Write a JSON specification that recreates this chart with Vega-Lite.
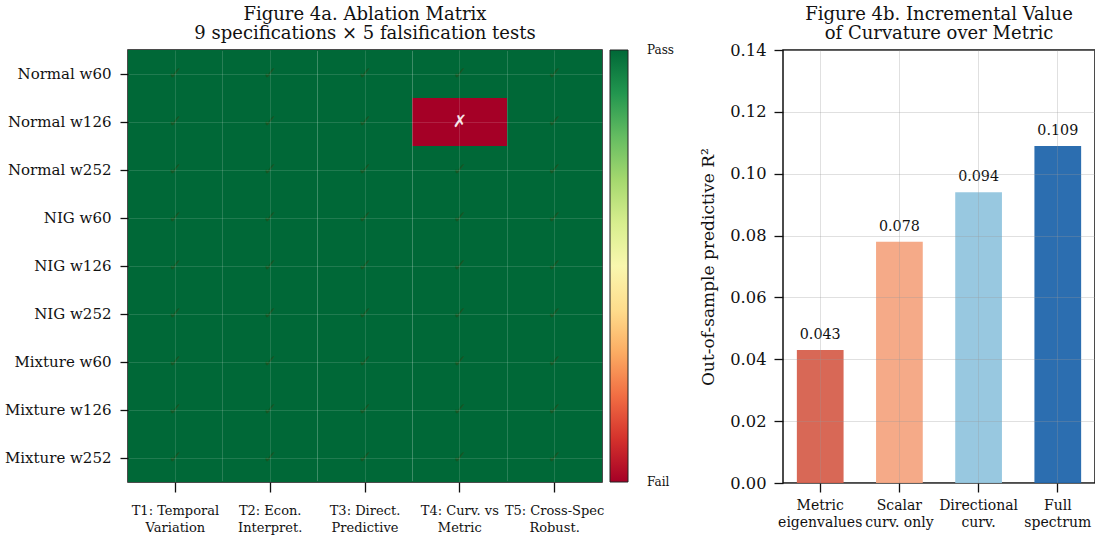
{
  "$schema": "https://vega.github.io/schema/vega-lite/v6.json",
  "padding": {"left": 3, "top": 5, "right": 0, "bottom": 0},
  "background": "white",
  "config": {
    "font": "DejaVu Serif",
    "view": {"stroke": "#111111", "strokeWidth": 1.5},
    "axis": {"labelFont": "DejaVu Serif", "titleFont": "DejaVu Serif", "labelColor": "#111111", "titleColor": "#111111", "tickColor": "#111111", "domainColor": "#111111", "titleFontWeight": "normal", "tickWidth": 1.3},
    "title": {"font": "DejaVu Serif", "fontSize": 18, "fontWeight": "normal", "color": "#111111"},
    "legend": {"labelFont": "DejaVu Serif"},
    "concat": {"spacing": 22}
  },
  "hconcat": [
    {
      "width": 474,
      "height": 432,
      "title": {"text": ["Figure 4a. Ablation Matrix", "9 specifications × 5 falsification tests"], "anchor": "middle", "frame": "group", "offset": 7, "lineHeight": 19},
      "data": {"values": [
        {"spec": "Normal w60", "test": "T1: Temporal\nVariation", "pass": 1, "symbol": "✓"},
        {"spec": "Normal w60", "test": "T2: Econ.\nInterpret.", "pass": 1, "symbol": "✓"},
        {"spec": "Normal w60", "test": "T3: Direct.\nPredictive", "pass": 1, "symbol": "✓"},
        {"spec": "Normal w60", "test": "T4: Curv. vs\nMetric", "pass": 1, "symbol": "✓"},
        {"spec": "Normal w60", "test": "T5: Cross-Spec\nRobust.", "pass": 1, "symbol": "✓"},
        {"spec": "Normal w126", "test": "T1: Temporal\nVariation", "pass": 1, "symbol": "✓"},
        {"spec": "Normal w126", "test": "T2: Econ.\nInterpret.", "pass": 1, "symbol": "✓"},
        {"spec": "Normal w126", "test": "T3: Direct.\nPredictive", "pass": 1, "symbol": "✓"},
        {"spec": "Normal w126", "test": "T4: Curv. vs\nMetric", "pass": 0, "symbol": "✗"},
        {"spec": "Normal w126", "test": "T5: Cross-Spec\nRobust.", "pass": 1, "symbol": "✓"},
        {"spec": "Normal w252", "test": "T1: Temporal\nVariation", "pass": 1, "symbol": "✓"},
        {"spec": "Normal w252", "test": "T2: Econ.\nInterpret.", "pass": 1, "symbol": "✓"},
        {"spec": "Normal w252", "test": "T3: Direct.\nPredictive", "pass": 1, "symbol": "✓"},
        {"spec": "Normal w252", "test": "T4: Curv. vs\nMetric", "pass": 1, "symbol": "✓"},
        {"spec": "Normal w252", "test": "T5: Cross-Spec\nRobust.", "pass": 1, "symbol": "✓"},
        {"spec": "NIG w60", "test": "T1: Temporal\nVariation", "pass": 1, "symbol": "✓"},
        {"spec": "NIG w60", "test": "T2: Econ.\nInterpret.", "pass": 1, "symbol": "✓"},
        {"spec": "NIG w60", "test": "T3: Direct.\nPredictive", "pass": 1, "symbol": "✓"},
        {"spec": "NIG w60", "test": "T4: Curv. vs\nMetric", "pass": 1, "symbol": "✓"},
        {"spec": "NIG w60", "test": "T5: Cross-Spec\nRobust.", "pass": 1, "symbol": "✓"},
        {"spec": "NIG w126", "test": "T1: Temporal\nVariation", "pass": 1, "symbol": "✓"},
        {"spec": "NIG w126", "test": "T2: Econ.\nInterpret.", "pass": 1, "symbol": "✓"},
        {"spec": "NIG w126", "test": "T3: Direct.\nPredictive", "pass": 1, "symbol": "✓"},
        {"spec": "NIG w126", "test": "T4: Curv. vs\nMetric", "pass": 1, "symbol": "✓"},
        {"spec": "NIG w126", "test": "T5: Cross-Spec\nRobust.", "pass": 1, "symbol": "✓"},
        {"spec": "NIG w252", "test": "T1: Temporal\nVariation", "pass": 1, "symbol": "✓"},
        {"spec": "NIG w252", "test": "T2: Econ.\nInterpret.", "pass": 1, "symbol": "✓"},
        {"spec": "NIG w252", "test": "T3: Direct.\nPredictive", "pass": 1, "symbol": "✓"},
        {"spec": "NIG w252", "test": "T4: Curv. vs\nMetric", "pass": 1, "symbol": "✓"},
        {"spec": "NIG w252", "test": "T5: Cross-Spec\nRobust.", "pass": 1, "symbol": "✓"},
        {"spec": "Mixture w60", "test": "T1: Temporal\nVariation", "pass": 1, "symbol": "✓"},
        {"spec": "Mixture w60", "test": "T2: Econ.\nInterpret.", "pass": 1, "symbol": "✓"},
        {"spec": "Mixture w60", "test": "T3: Direct.\nPredictive", "pass": 1, "symbol": "✓"},
        {"spec": "Mixture w60", "test": "T4: Curv. vs\nMetric", "pass": 1, "symbol": "✓"},
        {"spec": "Mixture w60", "test": "T5: Cross-Spec\nRobust.", "pass": 1, "symbol": "✓"},
        {"spec": "Mixture w126", "test": "T1: Temporal\nVariation", "pass": 1, "symbol": "✓"},
        {"spec": "Mixture w126", "test": "T2: Econ.\nInterpret.", "pass": 1, "symbol": "✓"},
        {"spec": "Mixture w126", "test": "T3: Direct.\nPredictive", "pass": 1, "symbol": "✓"},
        {"spec": "Mixture w126", "test": "T4: Curv. vs\nMetric", "pass": 1, "symbol": "✓"},
        {"spec": "Mixture w126", "test": "T5: Cross-Spec\nRobust.", "pass": 1, "symbol": "✓"},
        {"spec": "Mixture w252", "test": "T1: Temporal\nVariation", "pass": 1, "symbol": "✓"},
        {"spec": "Mixture w252", "test": "T2: Econ.\nInterpret.", "pass": 1, "symbol": "✓"},
        {"spec": "Mixture w252", "test": "T3: Direct.\nPredictive", "pass": 1, "symbol": "✓"},
        {"spec": "Mixture w252", "test": "T4: Curv. vs\nMetric", "pass": 1, "symbol": "✓"},
        {"spec": "Mixture w252", "test": "T5: Cross-Spec\nRobust.", "pass": 1, "symbol": "✓"}
      ]},
      "encoding": {
        "x": {
          "field": "test", "type": "nominal",
          "sort": ["T1: Temporal\nVariation", "T2: Econ.\nInterpret.", "T3: Direct.\nPredictive", "T4: Curv. vs\nMetric", "T5: Cross-Spec\nRobust."],
          "scale": {"paddingInner": 0, "paddingOuter": 0},
          "axis": {"title": null, "labelAngle": 0, "labelFontSize": 13, "labelExpr": "split(datum.label, '\\n')", "labelLineHeight": 17, "tickSize": 10, "labelPadding": 12, "domain": false, "grid": true, "gridColor": "#ffffff", "gridOpacity": 0.13, "gridWidth": 1, "bandPosition": 0.5, "zindex": 1}
        },
        "y": {
          "field": "spec", "type": "nominal",
          "sort": ["Normal w60", "Normal w126", "Normal w252", "NIG w60", "NIG w126", "NIG w252", "Mixture w60", "Mixture w126", "Mixture w252"],
          "scale": {"paddingInner": 0, "paddingOuter": 0},
          "axis": {"title": null, "labelFontSize": 15, "tickSize": 8, "labelPadding": 9, "domain": false, "grid": true, "gridColor": "#ffffff", "gridOpacity": 0.13, "gridWidth": 1, "bandPosition": 0.5, "zindex": 1}
        }
      },
      "layer": [
        {
          "mark": {"type": "rect"},
          "encoding": {
            "color": {
              "field": "pass", "type": "quantitative",
              "scale": {"scheme": "redyellowgreen", "domain": [0, 1]},
              "legend": {"title": null, "orient": "right", "offset": 8, "gradientLength": 432, "gradientThickness": 18, "gradientStrokeColor": "#222222", "gradientStrokeWidth": 1, "values": [0.001, 0.999], "labelExpr": "datum.value > 0.5 ? 'Pass' : 'Fail'", "labelFontSize": 12, "labelOffset": 19, "labelColor": "#111111"}
            }
          }
        },
        {
          "mark": {"type": "text", "font": "DejaVu Sans", "fontSize": 17},
          "encoding": {
            "text": {"field": "symbol"},
            "color": {"condition": {"test": "datum.pass == 0", "value": "#ffffff"}, "value": "#1d5220"},
            "opacity": {"condition": {"test": "datum.pass == 0", "value": 0.9}, "value": 0.8}
          }
        }
      ]
    },
    {
      "width": 312,
      "height": 433,
      "title": {"text": ["Figure 4b. Incremental Value", "of Curvature over Metric"], "anchor": "middle", "frame": "group", "offset": -1, "lineHeight": 19},
      "data": {"values": [
        {"feature": "Metric\neigenvalues", "r2": 0.043},
        {"feature": "Scalar\ncurv. only", "r2": 0.078},
        {"feature": "Directional\ncurv.", "r2": 0.094},
        {"feature": "Full\nspectrum", "r2": 0.109}
      ]},
      "encoding": {
        "x": {
          "field": "feature", "type": "nominal", "sort": null,
          "scale": {"paddingInner": 0.41, "paddingOuter": 0.175},
          "axis": {"title": null, "labelAngle": 0, "labelFontSize": 14, "labelExpr": "split(datum.label, '\\n')", "labelLineHeight": 17, "tickSize": 9, "labelPadding": 6, "domain": false, "grid": true, "gridColor": "#999999", "gridOpacity": 0.3, "bandPosition": 0.5, "zindex": 1}
        },
        "y": {
          "field": "r2", "type": "quantitative",
          "scale": {"domain": [0, 0.14], "nice": false},
          "axis": {"title": "Out-of-sample predictive R²", "titleFontSize": 17, "titlePadding": 12, "values": [0, 0.02, 0.04, 0.06, 0.08, 0.1, 0.12, 0.14], "format": ".2f", "labelFontSize": 16.3, "tickSize": 9, "labelPadding": 8, "domain": false, "grid": true, "gridColor": "#999999", "gridOpacity": 0.3, "zindex": 1}
        }
      },
      "layer": [
        {
          "mark": {"type": "bar", "opacity": 0.95},
          "encoding": {
            "color": {
              "field": "feature", "type": "nominal",
              "scale": {"domain": ["Metric\neigenvalues", "Scalar\ncurv. only", "Directional\ncurv.", "Full\nspectrum"], "range": ["#d6604d", "#f4a582", "#92c5de", "#2166ac"]},
              "legend": null
            }
          }
        },
        {
          "mark": {"type": "text", "baseline": "bottom", "dy": -8, "fontSize": 14.3, "color": "#111111"},
          "encoding": {"text": {"field": "r2", "type": "quantitative", "format": ".3f"}}
        }
      ]
    }
  ]
}
